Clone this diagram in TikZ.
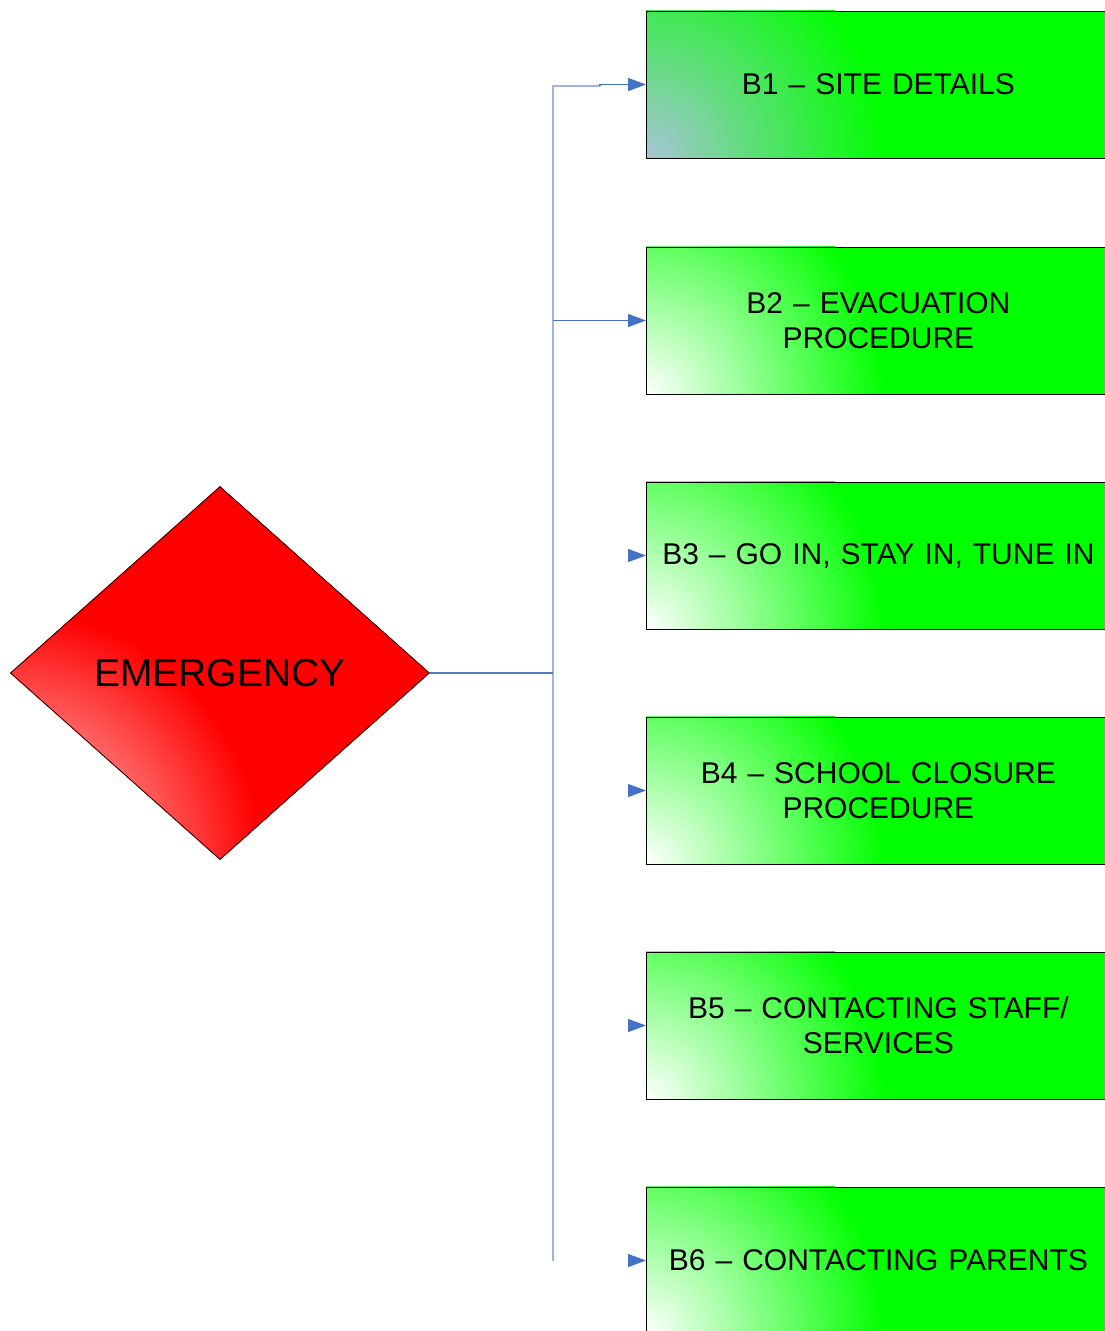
\documentclass[tikz,border=0pt]{standalone}
\usepackage{fontspec}
\setmainfont{Liberation Sans}
\usetikzlibrary{arrows.meta}
\usetikzlibrary{shapes.geometric}
\definecolor{trunkblue}{RGB}{157,181,220}
\definecolor{linkblue}{RGB}{84,124,192}
\definecolor{tipblue}{RGB}{68,114,196}
\definecolor{fadegreen}{RGB}{0,255,0}
\definecolor{cornerblue}{RGB}{168,196,216}
\pgfdeclarelayer{glowlayer}
\pgfsetlayers{glowlayer,main}

\begin{document}
\begin{tikzpicture}[x=1pt,y=-1pt,
    box/.style={draw=black, line width=0.8pt, anchor=west,
      minimum width=464pt, minimum height=147pt, text width=440pt,
      align=center, font=\fontsize{30}{35}\selectfont},
    trunk/.style={draw=trunkblue, line width=1.2pt},
    link/.style={draw=linkblue, line width=1.2pt},
    tip/.style={-{Triangle[length=18pt,width=13pt]}, tipblue, line width=1.2pt}]
  \useasboundingbox (0,0) rectangle (1105,1331);
  \clip (0,0) rectangle (1105,1331);

  % the six plan sections
  \foreach \n/\y/\t in {1/84.5/{B1 – SITE DETAILS},
      2/320.5/{B2 – EVACUATION\\PROCEDURE},
      3/555.5/{B3 – GO IN, STAY IN, TUNE IN},
      4/790.5/{B4 – SCHOOL CLOSURE\\PROCEDURE},
      5/1025.5/{B5 – CONTACTING STAFF/\\SERVICES},
      6/1260.5/{B6 – CONTACTING PARENTS}}
    \node[box] (b\n) at (646,\y) {\t};

  \node[diamond, draw=black!80!red, line width=0.8pt,
    aspect=1.12, minimum width=419pt, minimum height=373pt,
    font=\fontsize{39}{45}\selectfont] (emerg) at (220,673) {EMERGENCY};

  % fills, glowing from the lower left corner
  \begin{pgfonlayer}{glowlayer}
    \foreach \n/\c in {1/cornerblue,2/white,3/white,4/white,5/white,6/white}{
      \begin{scope}
        \clip (b\n.south west) rectangle (b\n.north east);
        \fill[fadegreen] (b\n.south west) rectangle (b\n.north east);
        \shade[inner color=\c, outer color=fadegreen] (b\n.south west) circle (240pt);
      \end{scope}
    }
    \begin{scope}
      \clip (emerg.north) -- (emerg.east) -- (emerg.south) -- (emerg.west) -- cycle;
      \fill[red] (emerg.north) -- (emerg.east) -- (emerg.south) -- (emerg.west) -- cycle;
      \shade[inner color=red!10!white, outer color=red]
        (emerg.west |- emerg.south) circle (250pt);
    \end{scope}
  \end{pgfonlayer}

  \coordinate (fork) at (553,673);
  \coordinate (top) at (553,86);
  \coordinate (jog) at (600,86);
  \coordinate (bot) at (fork |- b6.west);

  \draw[trunk] (bot) -- (top) -- (jog);
  \draw[link] (emerg.east) -- (fork);
  \draw[link, tip] (jog) -- (jog |- b1.west) -- (b1.west);
  \draw[link, tip] (fork |- b2.west) -- (b2.west);
  \foreach \n in {3,...,6}
    \draw[tip] ([xshift=-18pt]b\n.west) -- (b\n.west);
\end{tikzpicture}
\end{document}
